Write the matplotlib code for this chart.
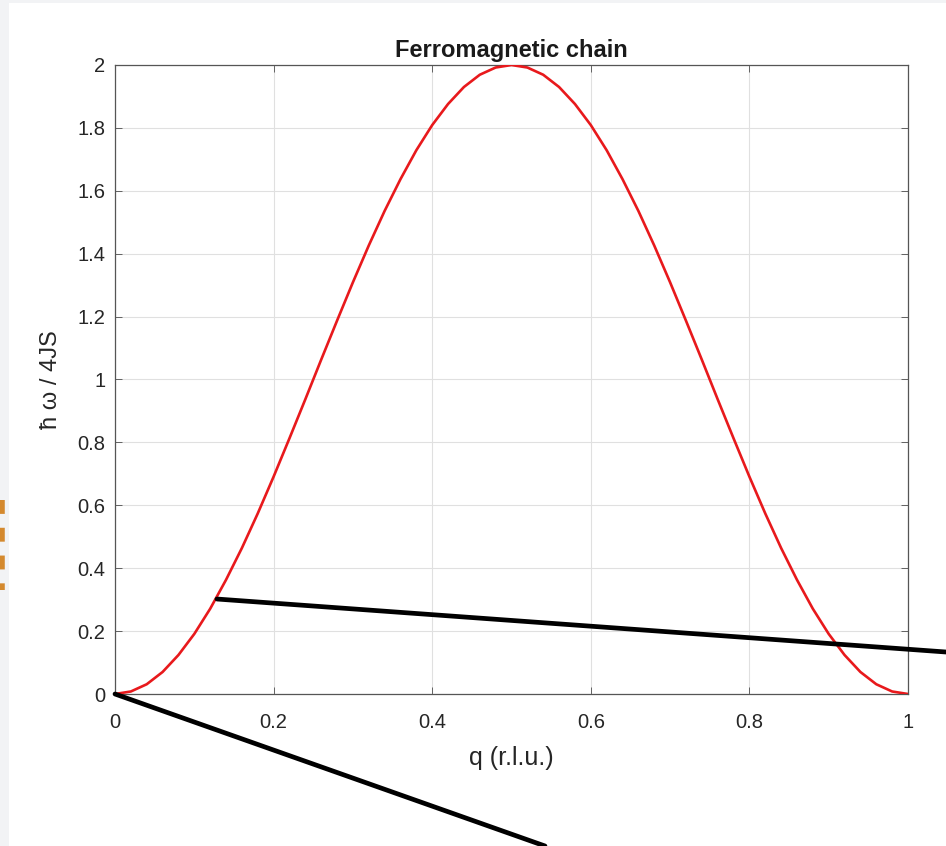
import matplotlib
matplotlib.use('Agg')
import matplotlib.pyplot as plt
from matplotlib.patches import Rectangle, ConnectionPatch
from matplotlib.lines import Line2D

# dispersion (q in r.l.u., energy in units of 4JS)
q = [0.00, 0.02, 0.04, 0.06, 0.08, 0.10, 0.12, 0.14, 0.16, 0.18,
     0.20, 0.22, 0.24, 0.26, 0.28, 0.30, 0.32, 0.34, 0.36, 0.38,
     0.40, 0.42, 0.44, 0.46, 0.48, 0.50, 0.52, 0.54, 0.56, 0.58,
     0.60, 0.62, 0.64, 0.66, 0.68, 0.70, 0.72, 0.74, 0.76, 0.78,
     0.80, 0.82, 0.84, 0.86, 0.88, 0.90, 0.92, 0.94, 0.96, 0.98, 1.00]
energy = [0.000, 0.008, 0.031, 0.070, 0.124, 0.191, 0.271, 0.363, 0.464, 0.574,
          0.691, 0.813, 0.937, 1.063, 1.187, 1.309, 1.426, 1.536, 1.637, 1.729,
          1.809, 1.876, 1.930, 1.969, 1.992, 2.000, 1.992, 1.969, 1.930, 1.876,
          1.809, 1.729, 1.637, 1.536, 1.426, 1.309, 1.187, 1.063, 0.937, 0.813,
          0.691, 0.574, 0.464, 0.363, 0.271, 0.191, 0.124, 0.070, 0.031, 0.008, 0.000]

x_ticks = [0, 0.2, 0.4, 0.6, 0.8, 1]
x_ticklabels = ['0', '0.2', '0.4', '0.6', '0.8', '1']
y_ticks = [0, 0.2, 0.4, 0.6, 0.8, 1, 1.2, 1.4, 1.6, 1.8, 2]
y_ticklabels = ['0', '0.2', '0.4', '0.6', '0.8', '1', '1.2', '1.4', '1.6', '1.8', '2']

# pointer lines from the slide: start on the plot, end at the page edge
pointer_start = (0.1286, 0.302)
pointer_end = (1.0, 0.2293)
pointer2_start = (0.0, 0.0)
pointer2_end = (0.5761, 0.0)

plt.rcParams['font.family'] = ['Liberation Sans', 'DejaVu Sans']
axcol = '#262626'

fig = plt.figure(figsize=(9.46, 8.46), dpi=100, facecolor='#f2f3f5')
fig.patches.append(Rectangle((9 / 946, 0), 1, 843 / 846, transform=fig.transFigure,
                             facecolor='white', edgecolor='none', zorder=-5))

# orange dashes cut by the left edge
fig.lines.append(Line2D([2 / 946, 2 / 946], [1 - 500 / 846, 1 - 590 / 846],
                        transform=fig.transFigure, color='#d4892e', lw=4,
                        linestyle=(0, (2.5, 2.5)), zorder=-4))

ax = fig.add_axes([115 / 946, 152 / 846, 793 / 946, 629 / 846])
ax.plot(q, energy, color='#e8191c', lw=1.9, zorder=3)

ax.set_xlim(0, 1)
ax.set_ylim(0, 2)
ax.set_xticks(x_ticks)
ax.set_xticklabels(x_ticklabels)
ax.set_yticks(y_ticks)
ax.set_yticklabels(y_ticklabels)
ax.tick_params(direction='in', length=5, width=0.6, colors='#4d4d4d',
               labelcolor=axcol, labelsize=14.5, top=True, right=True)
ax.tick_params(axis='y', pad=7)
ax.tick_params(axis='x', pad=14)
for s in ax.spines.values():
    s.set_color('#555555')
    s.set_linewidth(0.9)
ax.grid(True, color='#e0e0e0', lw=0.8)
ax.set_axisbelow(True)

ax.set_title('Ferromagnetic chain', fontsize=17, fontweight='bold', color='#1a1a1a', pad=6)
ax.set_xlabel('q (r.l.u.)', fontsize=18, color=axcol)
ax.set_ylabel('ħ ω / 4JS', fontsize=17, color=axcol)
ax.xaxis.set_label_coords(0.5, -0.082)
ax.yaxis.set_label_coords(-0.067, 0.5)

for start, end in [(pointer_start, pointer_end), (pointer2_start, pointer2_end)]:
    con = ConnectionPatch(xyA=start, coordsA=ax.transData,
                          xyB=end, coordsB=fig.transFigure,
                          color='black', lw=3.4, zorder=10, clip_on=False)
    fig.add_artist(con)

fig.savefig('out.png', dpi=100, facecolor=fig.get_facecolor())
